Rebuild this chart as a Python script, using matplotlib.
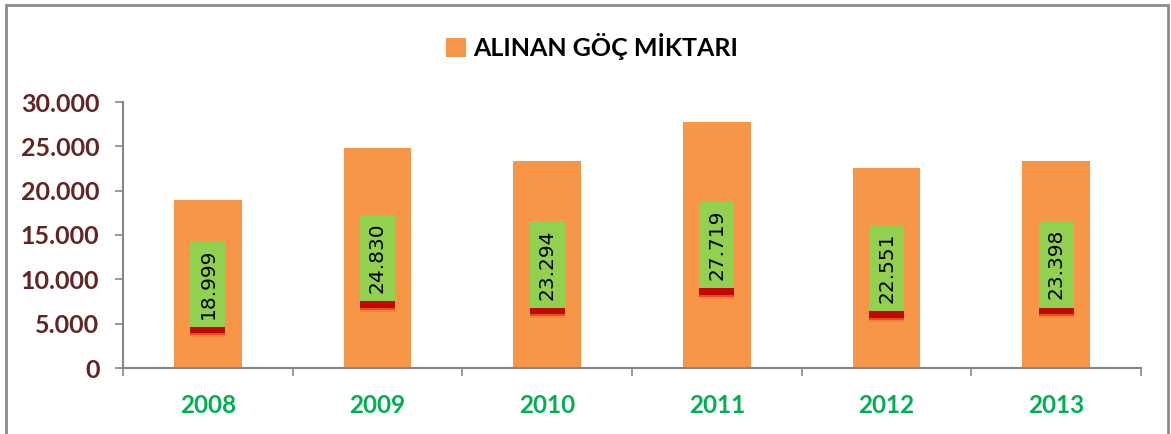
import numpy as np
import matplotlib.pyplot as plt
import matplotlib.patheffects as pe
from matplotlib.patches import Rectangle

years = ['2008', '2009', '2010', '2011', '2012', '2013']
goc = [18999, 24830, 23294, 27719, 22551, 23398]
y_ticks = [0, 5000, 10000, 15000, 20000, 25000, 30000]
series_name = 'ALINAN GÖÇ MİKTARI'

plt.rcParams['font.family'] = ['Lato', 'DejaVu Sans']

def tr_fmt(v):
    # turkish thousands separator
    return '{:,}'.format(int(v)).replace(',', '.')

fig = plt.figure(figsize=(11.71, 4.34), dpi=100)
ax = fig.add_axes([123/1171, 1 - 368/434, (1141-123)/1171, (368-102)/434])

# outer frame
fig.patches.append(Rectangle((6/1171, -0.01), (1168-6)/1171, 1 - 5/434 + 0.01,
                             transform=fig.transFigure, fill=False,
                             edgecolor='#8c8c8c', linewidth=2))

x = np.arange(len(years))
bars = ax.bar(x, goc, width=0.4, color='#F79646', label=series_name, zorder=2)

# data labels in the middle of each bar, green box with soft red shadow
shadow = [pe.SimplePatchShadow(offset=(0, -7.5), shadow_rgbFace='#E8602A', alpha=0.3),
          pe.SimplePatchShadow(offset=(0, -6), shadow_rgbFace='#D02010', alpha=0.5),
          pe.SimplePatchShadow(offset=(0, -4.5), shadow_rgbFace='#C00000', alpha=0.9),
          pe.Normal()]
for xi, v in zip(x, goc):
    t = ax.text(xi, v / 2, tr_fmt(v), rotation=90, ha='center', va='center',
                fontsize=14.5, color='black', family=['DejaVu Sans'], zorder=5,
                bbox=dict(boxstyle='square,pad=0.4', facecolor='#92D050',
                          edgecolor='none'))
    t.get_bbox_patch().set_path_effects(shadow)

ax.set_xlim(-0.5, len(years) - 0.5)
ax.set_ylim(0, 30000)
ax.set_yticks(y_ticks)
ax.set_yticklabels([tr_fmt(v) for v in y_ticks])
ax.set_xticks(x)
ax.set_xticklabels(years)
ax.set_xticks(np.arange(-0.5, len(years)), minor=True)

for s in ['top', 'right']:
    ax.spines[s].set_visible(False)
for s in ['left', 'bottom']:
    ax.spines[s].set_color('#868686')
    ax.spines[s].set_linewidth(1.5)

ax.tick_params(axis='y', colors='#868686', length=6, width=1.2, pad=11)
ax.tick_params(axis='x', which='major', length=0, pad=19)
ax.tick_params(axis='x', which='minor', length=6, width=1.2, color='#868686')
for lab in ax.get_yticklabels():
    lab.set_color('#632523')
    lab.set_fontweight('bold')
    lab.set_fontsize(18)
for lab in ax.get_xticklabels():
    lab.set_color('#00B050')
    lab.set_fontweight('bold')
    lab.set_fontsize(17.5)

leg = fig.legend(handles=[bars], labels=[series_name], loc='center',
                 bbox_to_anchor=(592/1171, 1 - 47/434), frameon=False,
                 handlelength=0.8, handleheight=0.8, handletextpad=0.3,
                 prop={'weight': 'bold', 'size': 18})

fig.savefig('out.png', dpi=100)
